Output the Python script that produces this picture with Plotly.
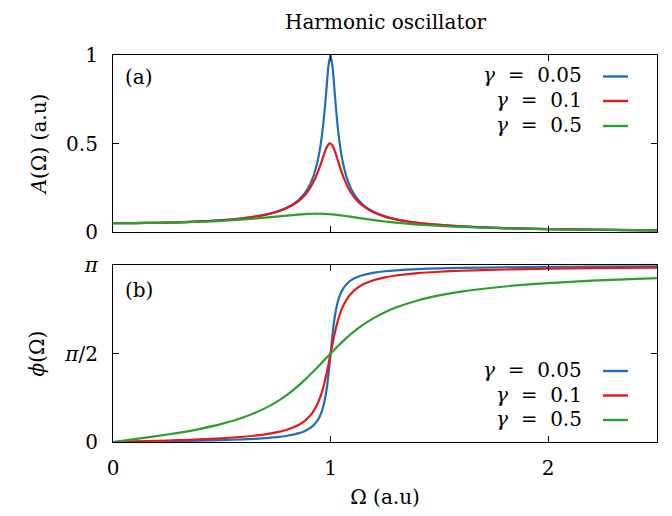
import plotly.graph_objects as go
from plotly.subplots import make_subplots

omega = [0, 0.1, 0.2, 0.3, 0.4, 0.5, 0.6, 0.7, 0.75, 0.8, 0.85, 0.88, 0.9, 0.92, 0.94,
         0.95, 0.96, 0.97, 0.98, 0.99, 1.0, 1.01, 1.02, 1.03, 1.04, 1.05, 1.06, 1.08,
         1.1, 1.12, 1.15, 1.2, 1.25, 1.3, 1.4, 1.5, 1.6, 1.8, 2.0, 2.2, 2.5]

amp_g005 = [0.05, 0.0505, 0.0521, 0.0549, 0.0595, 0.0666, 0.0780, 0.0978, 0.1139, 0.1380,
            0.1781, 0.2175, 0.2561, 0.3118, 0.3983, 0.4610, 0.5439, 0.6540, 0.7936, 0.9373,
            1.0, 0.9200, 0.7685, 0.6269, 0.5167, 0.4342, 0.3718, 0.2858, 0.2303, 0.1919,
            0.1526, 0.1126, 0.0883, 0.0721, 0.0519, 0.0399, 0.0320, 0.0223, 0.0167, 0.0130,
            0.0095]
amp_g01 = [0.05, 0.0505, 0.0521, 0.0549, 0.0595, 0.0665, 0.0778, 0.0971, 0.1126, 0.1356,
           0.1723, 0.2065, 0.2378, 0.2793, 0.3342, 0.3673, 0.4034, 0.4402, 0.4730, 0.4951,
           0.5, 0.4855, 0.4557, 0.4179, 0.3782, 0.3407, 0.3071, 0.2520, 0.2109, 0.1799,
           0.1460, 0.1096, 0.0868, 0.0712, 0.0515, 0.0397, 0.0319, 0.0222, 0.0166, 0.0130,
           0.0095]
amp_g05 = [0.05, 0.0504, 0.0518, 0.0542, 0.0579, 0.0632, 0.0707, 0.0808, 0.0868, 0.0929,
           0.0985, 0.1011, 0.1024, 0.1031, 0.1033, 0.1031, 0.1028, 0.1023, 0.1017, 0.1009,
           0.1, 0.0989, 0.0977, 0.0964, 0.0950, 0.0935, 0.0919, 0.0885, 0.0849, 0.0813,
           0.0758, 0.0672, 0.0595, 0.0527, 0.0421, 0.0343, 0.0285, 0.0207, 0.0158, 0.0125,
           0.0093]

# phase in units of pi
phase_g005 = [0, 0.0016, 0.0033, 0.0052, 0.0076, 0.0106, 0.0149, 0.0218, 0.0272, 0.0352,
              0.0484, 0.0613, 0.0740, 0.0926, 0.1222, 0.1443, 0.1749, 0.2188, 0.2837, 0.3784,
              0.5, 0.6205, 0.7133, 0.7764, 0.8193, 0.8494, 0.8709, 0.9001, 0.9185, 0.9310,
              0.9438, 0.9569, 0.9648, 0.9701, 0.9768, 0.9809, 0.9837, 0.9872, 0.9894, 0.9909,
              0.9924]
phase_g01 = [0, 0.0032, 0.0066, 0.0105, 0.0151, 0.0212, 0.0298, 0.0434, 0.0540, 0.0696,
             0.0946, 0.1184, 0.1410, 0.1720, 0.2163, 0.2459, 0.2821, 0.3258, 0.3779, 0.4369,
             0.5, 0.5625, 0.6200, 0.6700, 0.7117, 0.7462, 0.7743, 0.8171, 0.8463, 0.8681,
             0.8909, 0.9153, 0.9304, 0.9407, 0.9539, 0.9620, 0.9675, 0.9745, 0.9788, 0.9818,
             0.9849]
phase_g05 = [0, 0.0161, 0.0330, 0.0520, 0.0744, 0.1024, 0.1394, 0.1914, 0.2256, 0.2667,
             0.3159, 0.3493, 0.3729, 0.3974, 0.4227, 0.4356, 0.4485, 0.4614, 0.4743, 0.4872,
             0.5, 0.5127, 0.5252, 0.5375, 0.5495, 0.5614, 0.5729, 0.5951, 0.6161, 0.6358,
             0.6627, 0.7014, 0.7333, 0.7595, 0.7995, 0.8280, 0.8492, 0.8785, 0.8976, 0.9112,
             0.9256]

gamma_labels = ["0.05", "0.1", "0.5"]
colors = ["#1f6eb8", "#e3191c", "#2ca02c"]

x_ticks = [0, 1, 2]
x_ticklabels = ["0", "1", "2"]
amp_ticks = [0, 0.5, 1]
amp_ticklabels = ["0", "0.5", "1"]
phase_ticks = [0, 0.5, 1]
phase_ticklabels = ["0", "<i>π</i>/2", "<i>π</i>"]

FONT = "DejaVu Serif"
FS = 20
# reference pixel frame (the page adds an 8px body margin)
OFF = 8
W, H = 672 - OFF, 516 - OFF
L, R = 113, 657
T1, B1 = 55, 232
T2, B2 = 265, 442
PW, PH = R - L, B2 - T1

def px(xp):
    return (xp - L) / PW

def py(yp):
    return (B2 - yp) / PH

fig = make_subplots(rows=2, cols=1, shared_xaxes=False)

for amp, ph, c in zip([amp_g005, amp_g01, amp_g05], [phase_g005, phase_g01, phase_g05], colors):
    fig.add_trace(go.Scatter(x=omega, y=amp, mode="lines",
                             line=dict(color=c, width=2.2, shape="spline", smoothing=0.6),
                             showlegend=False), row=1, col=1)
    fig.add_trace(go.Scatter(x=omega, y=ph, mode="lines",
                             line=dict(color=c, width=2.2, shape="spline", smoothing=0.6),
                             showlegend=False), row=2, col=1)

def tfont(size=FS):
    return dict(family=FONT, size=size, color="black")

common_axis = dict(showline=True, linecolor="black", linewidth=1.2, mirror="allticks",
                   ticks="inside", ticklen=6, tickcolor="black", tickwidth=1,
                   showgrid=False, zeroline=False)

fig.update_xaxes(range=[0, 2.5], tickvals=x_ticks, ticktext=x_ticklabels, domain=[0, 1],
                 tickfont=tfont(), **common_axis)
fig.update_xaxes(showticklabels=False, row=1, col=1)
fig.update_xaxes(title=dict(text="Ω (a.u)", font=tfont(), standoff=10),
                 ticklabelstandoff=8, row=2, col=1)
fig.update_yaxes(range=[0, 1], tickfont=tfont(), **common_axis)
fig.update_yaxes(tickvals=amp_ticks, ticktext=amp_ticklabels,
                 domain=[py(B1), py(T1)], ticklabelstandoff=10,
                 title=dict(text="<i>A</i>(Ω) (a.u)", font=tfont(), standoff=14),
                 row=1, col=1)
fig.update_yaxes(tickvals=phase_ticks, ticktext=phase_ticklabels,
                 domain=[py(B2), py(T2)], ticklabelstandoff=10,
                 title=dict(text="<i>ϕ</i>(Ω)", font=tfont(), standoff=14),
                 row=2, col=1)

annotations = [
    dict(text="Harmonic oscillator", x=px(385), y=py(22), xref="paper", yref="paper",
         showarrow=False, font=tfont(20), xanchor="center", yanchor="middle"),
    dict(text="(a)", x=px(123), y=py(77), xref="paper", yref="paper", showarrow=False,
         font=tfont(), xanchor="left", yanchor="middle"),
    dict(text="(b)", x=px(123), y=py(290), xref="paper", yref="paper", showarrow=False,
         font=tfont(), xanchor="left", yanchor="middle"),
]
shapes = []
for ys in ([76.5, 101, 126], [371, 395.5, 420]):
    for g, c, yy in zip(gamma_labels, colors, ys):
        annotations.append(dict(text="<i>γ</i>  =  " + g, x=px(584), y=py(yy - 1),
                                xref="paper", yref="paper", showarrow=False,
                                font=tfont(), xanchor="right", yanchor="middle"))
        shapes.append(dict(type="line", xref="paper", yref="paper", x0=px(603), x1=px(628),
                           y0=py(yy), y1=py(yy), line=dict(color=c, width=2.4)))

fig.update_layout(width=W, height=H,
                  margin=dict(l=L - OFF, r=(W + OFF) - R, t=T1 - OFF, b=(H + OFF) - B2, autoexpand=False),
                  paper_bgcolor="white", plot_bgcolor="white",
                  annotations=annotations, shapes=shapes)

fig.write_html("out.html")
